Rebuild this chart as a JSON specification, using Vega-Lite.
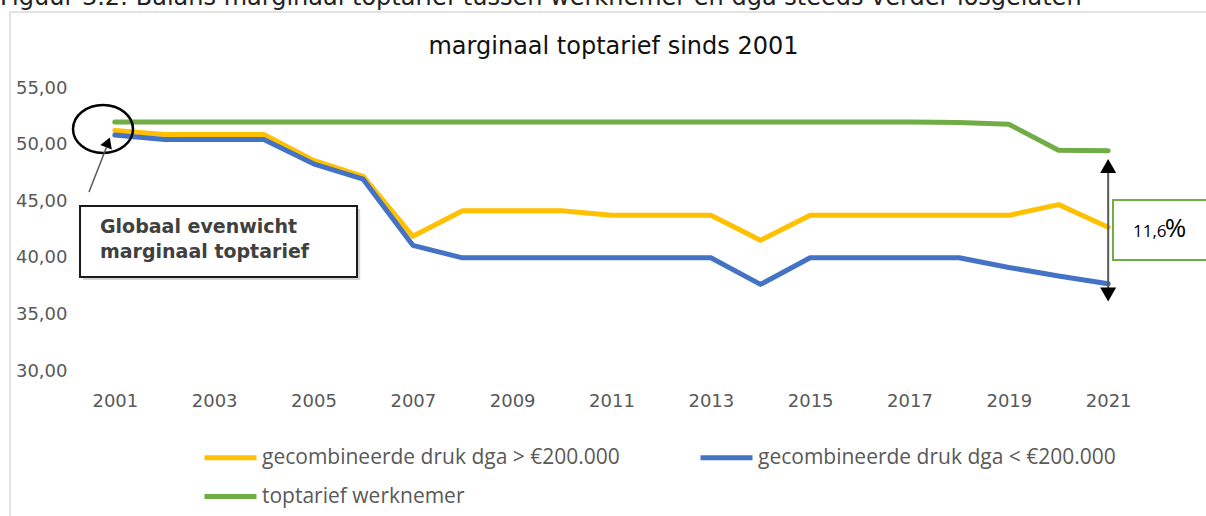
{
  "$schema": "https://vega.github.io/schema/vega-lite/v6.json",
  "autosize": {"type": "none"},
  "width": 1043,
  "height": 283,
  "padding": {"left": 90, "top": 88, "right": 73, "bottom": 145},
  "background": "white",
  "config": {
    "view": {"stroke": null},
    "axis": {"labelFont": "DejaVu Sans", "labelFontSize": 18, "labelColor": "#595959", "domain": false, "ticks": false, "tickSize": 0, "gridColor": "#d9d9d9", "gridWidth": 1.5}
  },
  "layer": [
    {
      "data": {"values": [{}]},
      "mark": {"type": "rect", "fill": null, "filled": false, "stroke": "#d9d9d9", "strokeWidth": 1.5},
      "encoding": {
        "x": {"datum": 1998.889, "type": "quantitative"},
        "x2": {"datum": 2023.25},
        "y": {"datum": 61.71, "type": "quantitative"},
        "y2": {"datum": 15.07}
      }
    },
    {
      "data": {"values": [
        {"year": 2001, "s": "gecombineerde druk dga > €200.000", "v": 51.25},
        {"year": 2002, "s": "gecombineerde druk dga > €200.000", "v": 50.9},
        {"year": 2003, "s": "gecombineerde druk dga > €200.000", "v": 50.9},
        {"year": 2004, "s": "gecombineerde druk dga > €200.000", "v": 50.9},
        {"year": 2005, "s": "gecombineerde druk dga > €200.000", "v": 48.6},
        {"year": 2006, "s": "gecombineerde druk dga > €200.000", "v": 47.2},
        {"year": 2007, "s": "gecombineerde druk dga > €200.000", "v": 41.9},
        {"year": 2008, "s": "gecombineerde druk dga > €200.000", "v": 44.15},
        {"year": 2009, "s": "gecombineerde druk dga > €200.000", "v": 44.15},
        {"year": 2010, "s": "gecombineerde druk dga > €200.000", "v": 44.15},
        {"year": 2011, "s": "gecombineerde druk dga > €200.000", "v": 43.75},
        {"year": 2012, "s": "gecombineerde druk dga > €200.000", "v": 43.75},
        {"year": 2013, "s": "gecombineerde druk dga > €200.000", "v": 43.75},
        {"year": 2014, "s": "gecombineerde druk dga > €200.000", "v": 41.55},
        {"year": 2015, "s": "gecombineerde druk dga > €200.000", "v": 43.75},
        {"year": 2016, "s": "gecombineerde druk dga > €200.000", "v": 43.75},
        {"year": 2017, "s": "gecombineerde druk dga > €200.000", "v": 43.75},
        {"year": 2018, "s": "gecombineerde druk dga > €200.000", "v": 43.75},
        {"year": 2019, "s": "gecombineerde druk dga > €200.000", "v": 43.75},
        {"year": 2020, "s": "gecombineerde druk dga > €200.000", "v": 44.7},
        {"year": 2021, "s": "gecombineerde druk dga > €200.000", "v": 42.7},
        {"year": 2001, "s": "gecombineerde druk dga < €200.000", "v": 50.85},
        {"year": 2002, "s": "gecombineerde druk dga < €200.000", "v": 50.45},
        {"year": 2003, "s": "gecombineerde druk dga < €200.000", "v": 50.45},
        {"year": 2004, "s": "gecombineerde druk dga < €200.000", "v": 50.45},
        {"year": 2005, "s": "gecombineerde druk dga < €200.000", "v": 48.3},
        {"year": 2006, "s": "gecombineerde druk dga < €200.000", "v": 46.95},
        {"year": 2007, "s": "gecombineerde druk dga < €200.000", "v": 41.1},
        {"year": 2008, "s": "gecombineerde druk dga < €200.000", "v": 40.0},
        {"year": 2009, "s": "gecombineerde druk dga < €200.000", "v": 40.0},
        {"year": 2010, "s": "gecombineerde druk dga < €200.000", "v": 40.0},
        {"year": 2011, "s": "gecombineerde druk dga < €200.000", "v": 40.0},
        {"year": 2012, "s": "gecombineerde druk dga < €200.000", "v": 40.0},
        {"year": 2013, "s": "gecombineerde druk dga < €200.000", "v": 40.0},
        {"year": 2014, "s": "gecombineerde druk dga < €200.000", "v": 37.65},
        {"year": 2015, "s": "gecombineerde druk dga < €200.000", "v": 40.0},
        {"year": 2016, "s": "gecombineerde druk dga < €200.000", "v": 40.0},
        {"year": 2017, "s": "gecombineerde druk dga < €200.000", "v": 40.0},
        {"year": 2018, "s": "gecombineerde druk dga < €200.000", "v": 40.0},
        {"year": 2019, "s": "gecombineerde druk dga < €200.000", "v": 39.15},
        {"year": 2020, "s": "gecombineerde druk dga < €200.000", "v": 38.4},
        {"year": 2021, "s": "gecombineerde druk dga < €200.000", "v": 37.7},
        {"year": 2001, "s": "toptarief werknemer", "v": 52.0},
        {"year": 2002, "s": "toptarief werknemer", "v": 52.0},
        {"year": 2003, "s": "toptarief werknemer", "v": 52.0},
        {"year": 2004, "s": "toptarief werknemer", "v": 52.0},
        {"year": 2005, "s": "toptarief werknemer", "v": 52.0},
        {"year": 2006, "s": "toptarief werknemer", "v": 52.0},
        {"year": 2007, "s": "toptarief werknemer", "v": 52.0},
        {"year": 2008, "s": "toptarief werknemer", "v": 52.0},
        {"year": 2009, "s": "toptarief werknemer", "v": 52.0},
        {"year": 2010, "s": "toptarief werknemer", "v": 52.0},
        {"year": 2011, "s": "toptarief werknemer", "v": 52.0},
        {"year": 2012, "s": "toptarief werknemer", "v": 52.0},
        {"year": 2013, "s": "toptarief werknemer", "v": 52.0},
        {"year": 2014, "s": "toptarief werknemer", "v": 52.0},
        {"year": 2015, "s": "toptarief werknemer", "v": 52.0},
        {"year": 2016, "s": "toptarief werknemer", "v": 52.0},
        {"year": 2017, "s": "toptarief werknemer", "v": 52.0},
        {"year": 2018, "s": "toptarief werknemer", "v": 51.95},
        {"year": 2019, "s": "toptarief werknemer", "v": 51.8},
        {"year": 2020, "s": "toptarief werknemer", "v": 49.5},
        {"year": 2021, "s": "toptarief werknemer", "v": 49.45}
      ]},
      "mark": {"type": "line", "strokeWidth": 5, "strokeCap": "round", "strokeJoin": "round"},
      "encoding": {
        "x": {"field": "year", "type": "quantitative", "scale": {"domain": [2000.5, 2021.5], "nice": false, "zero": false},
              "axis": {"title": null, "values": [2001, 2003, 2005, 2007, 2009, 2011, 2013, 2015, 2017, 2019, 2021], "format": "d", "grid": false, "labelPadding": 21}},
        "y": {"field": "v", "type": "quantitative", "scale": {"domain": [30, 55], "nice": false, "zero": false},
              "axis": {"title": null, "values": [30, 35, 40, 45, 50, 55], "labelExpr": "replace(format(datum.value, '.2f'), '.', ',')", "labelPadding": 23}},
        "color": {"field": "s", "type": "nominal",
                  "scale": {"domain": ["gecombineerde druk dga > €200.000", "gecombineerde druk dga < €200.000", "toptarief werknemer"], "range": ["#FFC000", "#4472C4", "#70AD47"]},
                  "legend": {"title": null, "orient": "none", "direction": "horizontal", "legendX": 112, "legendY": 341, "columns": 2, "columnPadding": 70, "rowPadding": -15,
                             "symbolType": "stroke", "symbolSize": 2704, "symbolStrokeWidth": 5,
                             "labelFont": "Open Sans", "labelFontSize": 21, "labelColor": "#595959", "labelOffset": 3, "labelLimit": 500}},
        "order": {"field": "year"}
      }
    },
    {
      "data": {"values": [{}]},
      "mark": {"type": "point", "shape": "M-1,0A1,0.8,0,1,1,1,0A1,0.8,0,1,1,-1,0Z", "filled": false, "stroke": "#000000", "strokeWidth": 2.5, "size": 3600, "opacity": 1},
      "encoding": {
        "x": {"datum": 2000.762, "type": "quantitative"},
        "y": {"datum": 51.38, "type": "quantitative"}
      }
    },
    {
      "data": {"values": [{}]},
      "mark": {"type": "rule", "stroke": "#595959", "strokeWidth": 1.5},
      "encoding": {
        "x": {"datum": 2000.48, "type": "quantitative"},
        "x2": {"datum": 2000.83},
        "y": {"datum": 45.81, "type": "quantitative"},
        "y2": {"datum": 49.75}
      }
    },
    {
      "data": {"values": [{}]},
      "mark": {"type": "point", "shape": "triangle-up", "filled": true, "fill": "#000000", "stroke": null, "size": 150, "angle": 21, "opacity": 1},
      "encoding": {
        "x": {"datum": 2000.862, "type": "quantitative"},
        "y": {"datum": 50.2, "type": "quantitative"}
      }
    },
    {
      "data": {"values": [{}]},
      "mark": {"type": "rect", "fill": "#c8c8c8", "opacity": 0.8},
      "encoding": {
        "x": {"datum": 2000.36, "type": "quantitative"},
        "x2": {"datum": 2005.94},
        "y": {"datum": 44.31, "type": "quantitative"},
        "y2": {"datum": 38.03}
      }
    },
    {
      "data": {"values": [{}]},
      "mark": {"type": "rect", "fill": "#ffffff", "stroke": "#1a1a1a", "strokeWidth": 2},
      "encoding": {
        "x": {"datum": 2000.299, "type": "quantitative"},
        "x2": {"datum": 2005.876},
        "y": {"datum": 44.58, "type": "quantitative"},
        "y2": {"datum": 38.3}
      }
    },
    {
      "data": {"values": [{}]},
      "mark": {"type": "text", "font": "DejaVu Sans", "fontSize": 19, "fontWeight": "bold", "fill": "#404040", "align": "left", "baseline": "middle"},
      "encoding": {
        "x": {"datum": 2000.701, "type": "quantitative"},
        "y": {"datum": 42.75, "type": "quantitative"},
        "text": {"value": "Globaal evenwicht"}
      }
    },
    {
      "data": {"values": [{}]},
      "mark": {"type": "text", "font": "DejaVu Sans", "fontSize": 19, "fontWeight": "bold", "fill": "#404040", "align": "left", "baseline": "middle"},
      "encoding": {
        "x": {"datum": 2000.701, "type": "quantitative"},
        "y": {"datum": 40.54, "type": "quantitative"},
        "text": {"value": "marginaal toptarief"}
      }
    },
    {
      "data": {"values": [{}]},
      "mark": {"type": "rule", "stroke": "#595959", "strokeWidth": 2},
      "encoding": {
        "x": {"datum": 2021.0, "type": "quantitative"},
        "y": {"datum": 47.58, "type": "quantitative"},
        "y2": {"datum": 37.24}
      }
    },
    {
      "data": {"values": [{}]},
      "mark": {"type": "point", "shape": "triangle-up", "filled": true, "fill": "#000000", "stroke": null, "size": 256, "opacity": 1},
      "encoding": {
        "x": {"datum": 2021.0, "type": "quantitative"},
        "y": {"datum": 48.11, "type": "quantitative"}
      }
    },
    {
      "data": {"values": [{}]},
      "mark": {"type": "point", "shape": "triangle-down", "filled": true, "fill": "#000000", "stroke": null, "size": 256, "opacity": 1},
      "encoding": {
        "x": {"datum": 2021.0, "type": "quantitative"},
        "y": {"datum": 36.76, "type": "quantitative"}
      }
    },
    {
      "data": {"values": [{}]},
      "mark": {"type": "rect", "fill": "#ffffff", "stroke": "#70AD47", "strokeWidth": 2},
      "encoding": {
        "x": {"datum": 2021.097, "type": "quantitative"},
        "x2": {"datum": 2023.5},
        "y": {"datum": 45.11, "type": "quantitative"},
        "y2": {"datum": 39.81}
      }
    },
    {
      "data": {"values": [{}]},
      "mark": {"type": "text", "font": "Open Sans", "fontSize": 17, "fill": "#000000", "align": "left", "baseline": "alphabetic"},
      "encoding": {
        "x": {"datum": 2021.5, "type": "quantitative"},
        "y": {"datum": 41.84, "type": "quantitative"},
        "text": {"value": "11,6"}
      }
    },
    {
      "data": {"values": [{}]},
      "mark": {"type": "text", "font": "Open Sans", "fontSize": 26, "fill": "#000000", "align": "left", "baseline": "alphabetic"},
      "encoding": {
        "x": {"datum": 2022.14, "type": "quantitative"},
        "y": {"datum": 41.84, "type": "quantitative"},
        "text": {"value": "%"}
      }
    },
    {
      "data": {"values": [{}]},
      "mark": {"type": "text", "font": "DejaVu Sans", "fontSize": 24, "fill": "#111111", "align": "center", "baseline": "alphabetic"},
      "encoding": {
        "x": {"datum": 2011.04, "type": "quantitative"},
        "y": {"datum": 57.96, "type": "quantitative"},
        "text": {"value": "marginaal toptarief sinds 2001"}
      }
    },
    {
      "data": {"values": [{}]},
      "mark": {"type": "text", "font": "DejaVu Sans", "fontSize": 24, "fill": "#222222", "align": "left", "baseline": "alphabetic"},
      "encoding": {
        "x": {"datum": 1998.688, "type": "quantitative"},
        "y": {"datum": 62.3, "type": "quantitative"},
        "text": {"value": "Figuur 3.2: Balans marginaal toptarief tussen werknemer en dga steeds verder losgelaten"}
      }
    }
  ]
}
